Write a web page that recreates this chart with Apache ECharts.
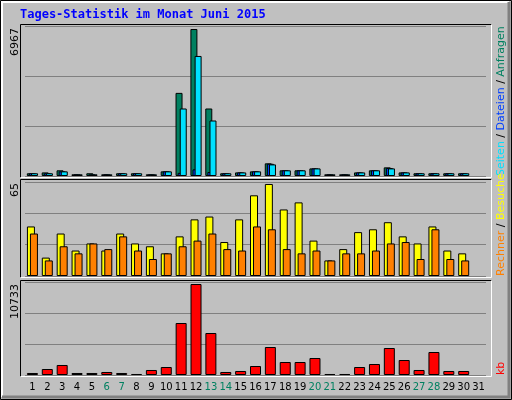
<!DOCTYPE html>
<html>
<head>
<meta charset="utf-8">
<script src="https://cdn.jsdelivr.net/npm/echarts@6/dist/echarts.min.js"></script>
<style>
  html, body { margin: 0; padding: 0; background: #c0c0c0; }
  #chart { width: 512px; height: 400px; }
</style>
</head>
<body>
<div id="chart"></div>
<script>
// Tage 1..31
var days = ['1','2','3','4','5','6','7','8','9','10','11','12','13','14','15','16','17','18','19','20','21','22','23','24','25','26','27','28','29','30','31']
var weekend = ['6','7','13','14','20','21','27','28']

// Anfragen / Dateien / Seiten
var hits  = [130,170,270,80,130,80,130,130,80,220,3940,6967,3200,130,170,220,600,270,270,360,80,80,170,270,410,170,130,130,130,130,null]
var files = [130,130,220,80,80,80,130,130,80,220,150,315,190,130,170,220,580,270,270,360,80,80,170,270,380,170,130,130,130,130,null]
var pages = [130,130,220,80,80,80,130,130,80,220,3200,5690,2630,130,170,220,550,270,270,360,80,80,170,270,360,170,130,130,130,130,null]

// Besuche / Rechner
var visits = [35,13,30,18,23,18,30,23,21,16,28,40,42,24,40,57,65,47,52,25,11,19,31,33,38,28,23,35,18,16,null]
var hosts  = [30,11,21,16,23,19,28,18,12,16,21,25,30,19,18,35,33,19,16,18,11,16,16,18,23,24,12,33,12,11,null]

// kb
var kbytes = [236,707,1180,236,236,354,236,118,590,943,6133,10733,4953,354,472,1061,3302,1533,1533,2004,118,118,943,1297,3184,1769,590,2712,472,472,null]

var maxTop = 7110, maxMid = 66.4, maxBot = 10970

var chart = echarts.init(document.getElementById('chart'))

function frame(x1, y1, x2, y2) {
  return [
    { type: 'polyline', shape: { points: [[x1, y2], [x1, y1], [x2, y1]] }, style: { stroke: '#000', lineWidth: 1, fill: null }, z: 10 },
    { type: 'polyline', shape: { points: [[x2, y1], [x2, y2], [x1, y2]] }, style: { stroke: '#fff', lineWidth: 1, fill: null }, z: 10 }
  ]
}

function sideText(x, y, txt, rich) {
  return {
    type: 'text', x: x, y: y, rotation: Math.PI / 2, z: 10,
    style: { text: txt, rich: rich, fill: '#000', font: '11px "DejaVu Sans"', align: 'left', verticalAlign: 'middle' }
  }
}

function maxText(y, txt) {
  return {
    type: 'text', x: 15, y: y, rotation: Math.PI / 2, z: 10,
    style: { text: txt, fill: '#000', font: '11px "DejaVu Sans"', align: 'right', verticalAlign: 'middle' }
  }
}

var graphics = [
  { type: 'rect', shape: { x: 0.5, y: 0.5, width: 511, height: 399 }, style: { fill: null, stroke: '#000', lineWidth: 1 } },
  { type: 'polyline', shape: { points: [[2, 397], [2, 2], [509, 2]] }, style: { stroke: '#fff', lineWidth: 2, fill: null } },
  { type: 'polyline', shape: { points: [[509, 2], [509, 397], [2, 397]] }, style: { stroke: '#808080', lineWidth: 3, fill: null } },
  { type: 'text', x: 20, y: 15, style: { text: 'Tages-Statistik im Monat Juni 2015', fill: '#0000ff', font: 'bold 12px "DejaVu Sans Mono"', verticalAlign: 'middle' } },
  maxText(28, '6967'),
  maxText(183, '65'),
  maxText(284, '10733'),
  sideText(501, 176, '{c|Seiten} / {b|Dateien} / {g|Anfragen}', {
    c: { fill: '#00e0ff', font: '11px "DejaVu Sans"' },
    b: { fill: '#0040ff', font: '11px "DejaVu Sans"' },
    g: { fill: '#008060', font: '11px "DejaVu Sans"' }
  }),
  sideText(501, 276, '{o|Rechner} / {y|Besuche}', {
    o: { fill: '#ff8000', font: '11px "DejaVu Sans"' },
    y: { fill: '#ffff00', font: '11px "DejaVu Sans"' }
  }),
  sideText(501, 375, '{r|kb}', { r: { fill: '#ff0000', font: '11px "DejaVu Sans"' } })
].concat(frame(20.5, 24.5, 491.5, 177.5), frame(20.5, 179.5, 491.5, 277.5), frame(20.5, 280.5, 491.5, 376.5))

function xAx(idx, show) {
  return {
    type: 'category', gridIndex: idx, data: days,
    axisLine: { show: false }, axisTick: { show: false },
    axisLabel: {
      show: show, margin: 7, fontSize: 10, fontFamily: 'DejaVu Sans', interval: 0,
      color: function (v) { return weekend.indexOf(v) >= 0 ? '#008060' : '#000' }
    }
  }
}

function yAx(idx, max) {
  return {
    type: 'value', gridIndex: idx, min: 0, max: max, interval: max / 3,
    axisLabel: { show: false }, axisLine: { show: false }, axisTick: { show: false },
    splitLine: { lineStyle: { color: '#808080', width: 1 } }
  }
}

var bs = { borderColor: '#000', borderWidth: 1 }

chart.setOption({
  animation: false,
  backgroundColor: '#c0c0c0',
  graphic: graphics,
  grid: [
    { left: 25, right: 26, top: 26, height: 150 },
    { left: 25, right: 26, top: 182, height: 94 },
    { left: 25, right: 26, top: 282, height: 93 }
  ],
  xAxis: [xAx(0, false), xAx(1, false), xAx(2, true)],
  yAxis: [yAx(0, maxTop), yAx(1, maxMid), yAx(2, maxBot)],
  series: [
    { name: 'Anfragen', type: 'bar', xAxisIndex: 0, yAxisIndex: 0, data: hits, barWidth: 7, barGap: '-70%', itemStyle: Object.assign({ color: '#008060' }, bs) },
    { name: 'Dateien', type: 'bar', xAxisIndex: 0, yAxisIndex: 0, data: files, barWidth: 7, barGap: '-70%', itemStyle: Object.assign({ color: '#0040ff' }, bs) },
    { name: 'Seiten', type: 'bar', xAxisIndex: 0, yAxisIndex: 0, data: pages, barWidth: 7, barGap: '-70%', itemStyle: Object.assign({ color: '#00e0ff' }, bs) },
    { name: 'Besuche', type: 'bar', xAxisIndex: 1, yAxisIndex: 1, data: visits, barWidth: 8, barGap: '-62.5%', itemStyle: Object.assign({ color: '#ffff00' }, bs) },
    { name: 'Rechner', type: 'bar', xAxisIndex: 1, yAxisIndex: 1, data: hosts, barWidth: 8, barGap: '-62.5%', itemStyle: Object.assign({ color: '#ff8000' }, bs) },
    { name: 'kb', type: 'bar', xAxisIndex: 2, yAxisIndex: 2, data: kbytes, barWidth: 11, itemStyle: Object.assign({ color: '#ff0000' }, bs) }
  ]
})
</script>
</body>
</html>
